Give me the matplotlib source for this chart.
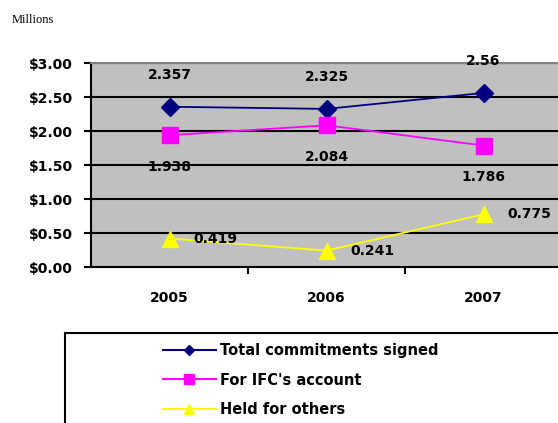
import matplotlib
matplotlib.use("Agg")
import matplotlib.pyplot as plt
from matplotlib.patches import Rectangle
from matplotlib.lines import Line2D

years = ["2005", "2006", "2007"]
total = [2.357, 2.325, 2.56]
ifc = [1.938, 2.084, 1.786]
held = [0.419, 0.241, 0.775]
total_labels = ["2.357", "2.325", "2.56"]
ifc_labels = ["1.938", "2.084", "1.786"]
held_labels = ["0.419", "0.241", "0.775"]
yticks = [0, 0.5, 1.0, 1.5, 2.0, 2.5, 3.0]
ytick_labels = ["$0.00", "$0.50", "$1.00", "$1.50", "$2.00", "$2.50", "$3.00"]
series_names = ["Total commitments signed", "For IFC's account", "Held for others"]

plt.rcParams['font.family'] = ['DejaVu Sans']
W, H = 558, 423
fig = plt.figure(figsize=(W/100, H/100), dpi=100)
ax = fig.add_axes([91/W, (H-267)/H, (562-91)/W, (267-63)/H])
ax.set_facecolor('#c0c0c0')
x = [0, 1, 2]
ax.set_xlim(-0.5, 2.5)
ax.set_ylim(0, 3.0)

for v in yticks[1:]:
    ax.axhline(v, color='black', lw=1.5, zorder=1)

ax.plot(x, total, color='#000080', lw=1.3, marker='D', ms=9, zorder=3)
ax.plot(x, ifc, color='#ff00ff', lw=1.3, marker='s', ms=11, zorder=3)
ax.plot(x, held, color='#ffff00', lw=1.3, marker='^', ms=12, zorder=3)

fs = 10
for xi, v, t in zip(x, total, total_labels):
    ax.annotate(t, (xi, v), xytext=(0, 23), textcoords='offset points',
                ha='center', va='center', fontsize=fs, fontweight='bold')
for xi, v, t in zip(x, ifc, ifc_labels):
    ax.annotate(t, (xi, v), xytext=(0, -23), textcoords='offset points',
                ha='center', va='center', fontsize=fs, fontweight='bold')
for xi, v, t in zip(x, held, held_labels):
    ax.annotate(t, (xi, v), xytext=(33, 0), textcoords='offset points',
                ha='center', va='center', fontsize=fs, fontweight='bold')

ax.set_yticks(yticks)
ax.set_yticklabels(ytick_labels, fontsize=fs, fontweight='bold')
ax.set_xticks(x)
ax.set_xticklabels(years, fontsize=fs, fontweight='bold')
ax.set_xticks([0.5, 1.5], minor=True)
ax.tick_params(axis='x', which='major', length=0, pad=17)
ax.tick_params(axis='x', which='minor', length=5, width=1.5, direction='out')
ax.tick_params(axis='y', length=5, width=1.5, direction='out', pad=8)
for s in ['left', 'bottom']:
    ax.spines[s].set_linewidth(1.5)
    ax.spines[s].set_color('black')
ax.spines['top'].set_color('#808080')
ax.spines['top'].set_linewidth(1.5)
ax.spines['right'].set_visible(False)

fig.text(12/W, 1-20/H, "Millions", fontsize=9, family='Liberation Serif', va='center', ha='left')

# legend box
fig.patches.append(Rectangle((65/W, -0.05), 1.0, (H-333)/H + 0.05, transform=fig.transFigure,
                             fill=False, edgecolor='black', lw=1.5))
handles = [
    Line2D([], [], color='#000080', lw=1.5, marker='D', ms=5),
    Line2D([], [], color='#ff00ff', lw=1.5, marker='s', ms=7),
    Line2D([], [], color='#ffff00', lw=1.5, marker='^', ms=7),
]
fig.legend(handles, series_names, loc='upper left', bbox_to_anchor=(163/W, 1-343/H),
           frameon=False, prop={'size': 10.5, 'weight': 'bold'}, handlelength=3.6,
           handletextpad=0.3, labelspacing=1.0, borderpad=0, borderaxespad=0)

fig.savefig("out.png", dpi=100)
